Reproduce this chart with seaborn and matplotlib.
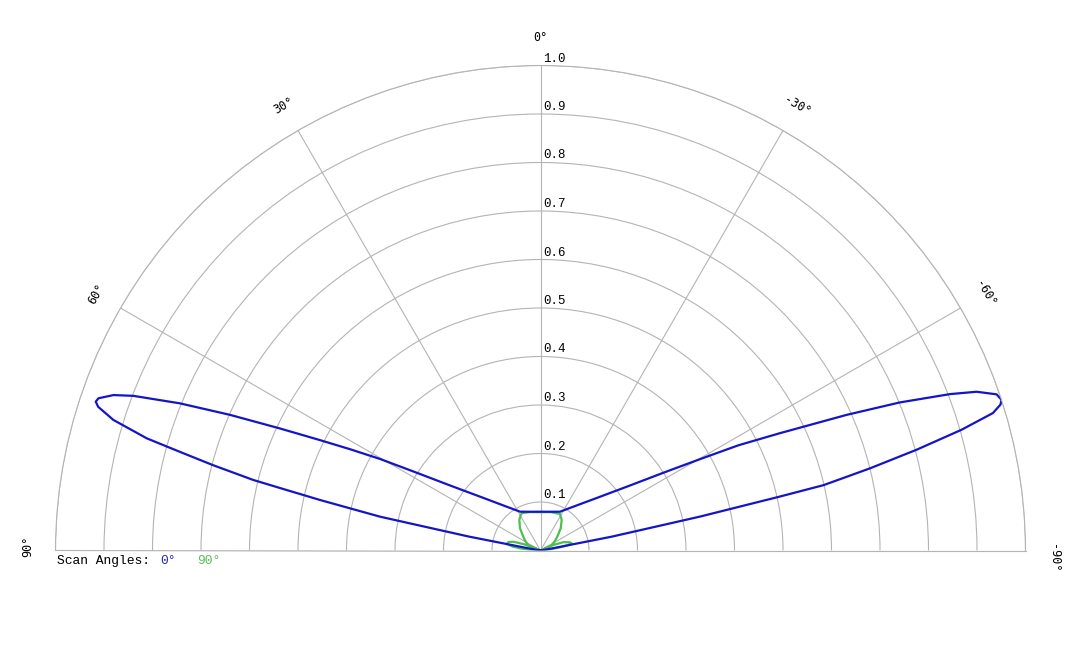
import numpy as np
import matplotlib
matplotlib.use("Agg")
import matplotlib.pyplot as plt
import seaborn as sns
from matplotlib.transforms import offset_copy

# Scan 0 deg (blue) : angle in degrees, normalised amplitude
blue_angle = [-90, -80, -79, -78, -77.3, -77, -76, -75, -74, -73.1, -72.4, -71.9, -71.1,
              -70, -69.1, -67.6, -66.1, -63.9, -62, -60.2, -57.8, -54, -46.4, -37.2, -26.7,
              -13, 0, 13, 27.8, 38.1, 46.9, 54.3, 58, 60.3, 62, 63.4, 64.9, 66.4, 67.8,
              69.2, 70, 71, 71.5, 72, 73, 74.1, 74.7, 75.4, 76.2, 76.6, 77.1, 78.1, 79, 80, 90]
blue_r = [0.0, 0.02, 0.15, 0.336, 0.506, 0.599, 0.70, 0.803, 0.903, 0.975, 0.995, 1.0, 0.994,
          0.957, 0.904, 0.801, 0.69, 0.55, 0.462, 0.379, 0.303, 0.228, 0.155, 0.114, 0.0895,
          0.082, 0.08, 0.082, 0.0905, 0.1155, 0.157, 0.23, 0.305, 0.381, 0.445, 0.508,
          0.593, 0.6985, 0.803, 0.898, 0.937, 0.964, 0.967, 0.959, 0.921, 0.844, 0.771,
          0.697, 0.610, 0.538, 0.466, 0.338, 0.15, 0.02, 0.0]

# Scan 90 deg (green)
green_angle = [-90, -86, -83, -80.7, -79, -77, -74, -70, -67, -65.5, -63.8, -57, -50.6,
               -42.3, -34.8, -28.1, -15, 0, 15, 26, 29.2, 34.8, 42.7, 51.3, 58, 65.7, 67,
               69, 72, 75, 79, 82, 84, 86, 88, 90]
green_r = [0.0, 0.0, 0.02, 0.041, 0.058, 0.066, 0.062, 0.05, 0.03, 0.0, 0.0257, 0.035,
           0.0448, 0.0619, 0.0766, 0.0853, 0.082, 0.079, 0.082, 0.086, 0.0838, 0.0766,
           0.0623, 0.0455, 0.037, 0.0276, 0.0, 0.035, 0.058, 0.068, 0.071, 0.058, 0.0425,
           0.02, 0.0, 0.0]

angle_ticks = [90, 60, 30, 0, -30, -60, -90]
r_ticks = [0.1, 0.2, 0.3, 0.4, 0.5, 0.6, 0.7, 0.8, 0.9, 1.0]

blue = "#1414c8"
green = "#4cbf4c"
grid_col = "#b4b4b4"

sns.set_style("white")
plt.rcParams["font.family"] = ["Liberation Mono", "DejaVu Sans"]
plt.rcParams["text.color"] = "black"

W, H = 1080, 648
fig = plt.figure(figsize=(W / 100, H / 100), dpi=100)
# square box, the half disc gets centred in it: centre (540.5, 550.5), radius 485 px
ax = fig.add_axes([55.5 / W, (H - 793) / H, 970 / W, 970 / H], projection="polar")
ax.set_theta_zero_location("N")
ax.set_thetamin(-90)
ax.set_thetamax(90)
ax.set_rlim(0, 1)

ax.set_xticks(np.deg2rad(angle_ticks))
ax.set_xticklabels([])
ax.set_yticks(r_ticks)
ax.set_yticklabels([])
ax.grid(True, color=grid_col, lw=0.8)
for s in ax.spines.values():
    s.set_color(grid_col)
    s.set_linewidth(0.8)

sns.lineplot(x=np.deg2rad(green_angle), y=green_r, sort=False, estimator=None,
             color=green, lw=1.6, ax=ax)
sns.lineplot(x=np.deg2rad(blue_angle), y=blue_r, sort=False, estimator=None,
             color=blue, lw=1.6, ax=ax)
ax.set_xlabel("")
ax.set_ylabel("")

# angle labels, tangential
for a in angle_ticks:
    pos = a
    if a == 90:
        pos = 89.5
    elif a == -90:
        pos = -90.9
    ax.text(np.deg2rad(pos), 1.058, f"{a}°", rotation=a, rotation_mode="anchor",
            ha="center", va="center", fontsize=8.5, family="DejaVu Sans Mono",
            color="black", clip_on=False)

# radial labels right of the 0 deg line
trans = offset_copy(ax.transData, fig=fig, x=3, y=4, units="dots")
for v in r_ticks:
    ax.text(0, v, f"{v:.1f}", transform=trans, ha="left", va="baseline", fontsize=9)

# legend line
fig.text(57 / W, 1 - 561 / H, "Scan Angles:", va="center", fontsize=9.4)
fig.text(160 / W, 1 - 561 / H, "0°", va="center", fontsize=9.4, color="#2a2ab0")
fig.text(197 / W, 1 - 561 / H, "90°", va="center", fontsize=9.4, color="#5cbc5c")

fig.savefig("out.png", dpi=100)
